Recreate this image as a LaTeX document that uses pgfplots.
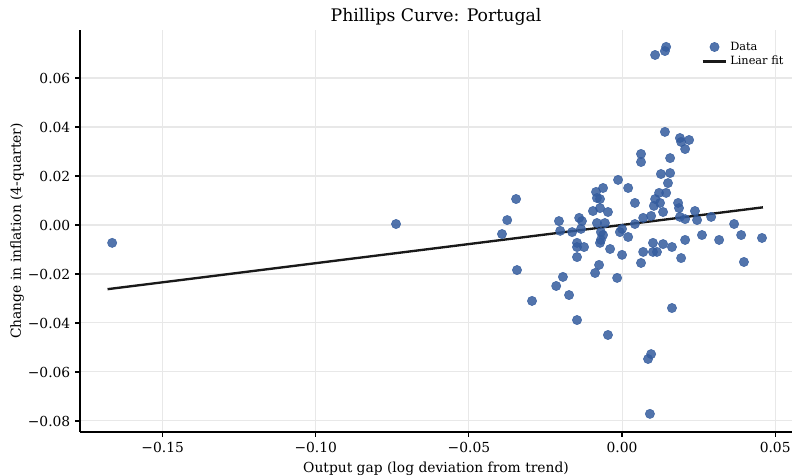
\documentclass[border=0pt]{standalone}
\usepackage{fontspec}
\setmainfont{DejaVu Serif}
\usepackage{pgfplots}
\pgfplotsset{compat=1.18}
\definecolor{dotblue}{RGB}{52,92,158}
\definecolor{gridgray}{RGB}{232,232,232}

\pgfplotstableread{
x y
-0.1665 -0.0073
-0.0738 0.0004
-0.0346 0.0106
-0.0375 0.0020
-0.0392 -0.0037
-0.0343 -0.0184
-0.0294 -0.0310
-0.0206 0.0016
-0.0202 -0.0024
-0.0193 -0.0212
-0.0215 -0.0249
-0.0173 -0.0286
-0.0147 -0.0388
-0.0163 -0.0029
-0.0140 0.0029
-0.0131 0.0016
-0.0134 -0.0016
-0.0147 -0.0073
-0.0147 -0.0090
-0.0124 -0.0090
-0.0147 -0.0131
-0.0088 -0.0196
-0.0075 -0.0163
-0.0046 -0.0449
-0.0016 -0.0216
0.0000 -0.0122
-0.0039 -0.0098
-0.0069 -0.0061
-0.0072 -0.0073
-0.0062 -0.0041
-0.0069 -0.0029
-0.0082 0.0008
-0.0056 0.0008
-0.0007 -0.0029
0.0000 -0.0016
0.0020 -0.0049
0.0042 0.0004
-0.0013 0.0184
-0.0062 0.0151
-0.0085 0.0135
-0.0082 0.0110
-0.0072 0.0106
0.0020 0.0151
0.0042 0.0090
-0.0095 0.0057
-0.0072 0.0069
-0.0046 0.0053
0.0062 0.0290
0.0062 0.0257
0.0140 0.0380
0.0189 0.0355
0.0193 0.0339
0.0219 0.0347
0.0206 0.0310
0.0157 0.0273
0.0127 0.0208
0.0157 0.0212
0.0150 0.0171
0.0121 0.0131
0.0144 0.0131
0.0108 0.0106
0.0104 0.0078
0.0124 0.0090
0.0183 0.0090
0.0186 0.0069
0.0134 0.0053
0.0238 0.0057
0.0189 0.0033
0.0206 0.0024
0.0245 0.0020
0.0291 0.0033
0.0069 0.0029
0.0095 0.0037
0.0366 0.0004
0.0389 -0.0041
0.0457 -0.0053
0.0317 -0.0061
0.0261 -0.0041
0.0206 -0.0061
0.0398 -0.0151
0.0101 -0.0073
0.0134 -0.0078
0.0163 -0.0090
0.0069 -0.0110
0.0101 -0.0110
0.0114 -0.0110
0.0193 -0.0135
0.0062 -0.0155
0.0163 -0.0339
0.0108 0.0694
0.0140 0.0710
0.0144 0.0727
0.0095 -0.0527
0.0085 -0.0547
0.0091 -0.0771
}\scatterdata

\pgfplotstableread{
x y
-0.1680 -0.0262
0.0460 0.0072
}\fitdata

\begin{document}
\begin{tikzpicture}
\useasboundingbox (0,0) rectangle (7.93in,4.76in);
\begin{axis}[
    at={(0.80in,0.44in)}, anchor=south west,
    scale only axis,
    width=7.12in, height=4.02in,
    xmin=-0.1770, xmax=0.0555,
    ymin=-0.0845, ymax=0.0796,
    scaled x ticks=false, scaled y ticks=false,
    axis x line*=bottom, axis y line*=left,
    axis line style={black, line width=0.8pt, -},
    tick align=outside,
    major tick length=3.5pt,
    tick style={black, line width=0.8pt},
    xtick={-0.15,-0.10,-0.05,0,0.05},
    xticklabels={−0.15,−0.10,−0.05,0.00,0.05},
    ytick={-0.08,-0.06,-0.04,-0.02,0,0.02,0.04,0.06},
    yticklabels={−0.08,−0.06,−0.04,−0.02,0.00,0.02,0.04,0.06},
    tick label style={font=\fontsize{10}{12}\selectfont},
    grid=major,
    grid style={gridgray, line width=0.75pt},
    title={Phillips Curve: Portugal},
    title style={font=\fontsize{12.5}{14}\selectfont, yshift=-6pt},
    xlabel={Output gap (log deviation from trend)},
    ylabel={Change in inflation (4-quarter)},
    label style={font=\fontsize{10}{12}\selectfont},
    xlabel style={yshift=0pt},
    ylabel style={yshift=-4pt},
    legend style={at={(0.998,0.985)}, anchor=north east, draw=none, fill=none,
        font=\fontsize{8.2}{10}\selectfont, row sep=-1pt},
    legend cell align=left,
]
\addplot[only marks, mark=*, mark size=3.35pt,
    mark options={fill=dotblue, draw=dotblue, fill opacity=0.85, draw opacity=0.85}]
    table[x=x, y=y] {\scatterdata};
\addlegendentry{Data}
\addplot[black!90, line width=1.7pt] table[x=x, y=y] {\fitdata};
\addlegendentry{Linear fit}
\end{axis}
\end{tikzpicture}
\end{document}
